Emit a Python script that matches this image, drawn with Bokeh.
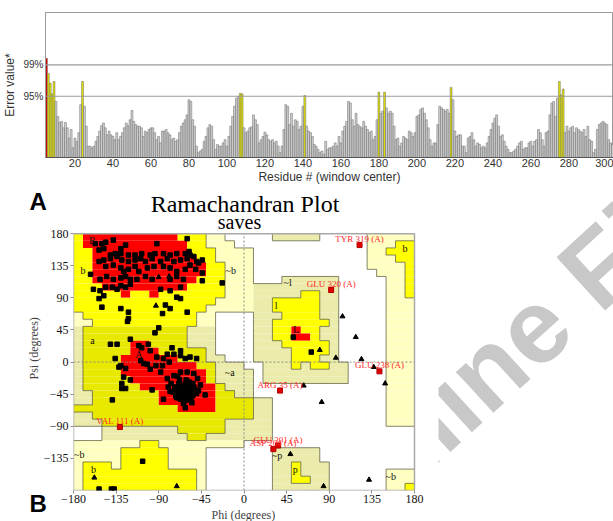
import math
from bokeh.plotting import figure
from bokeh.models import ColumnDataSource, FixedTicker, Label, Title, Span
from bokeh.embed import file_html
from bokeh.resources import INLINE
from bokeh.core.properties import value

# ---------------- Panel A data (ERRAT-style error values per residue) ----------------
error_values = [
    18.4, 15.6, 13.8, 11.8, 14.1, 10.4, 7.6, 6.5, 6.7, 5.5,
    6.5, 5.5, 3.6, 5.2, 1.8, 3.6, 3.0, 4.6, 9.8, 14.1,
    9.5, 5.8, 2.1, 2.1, 1.8, 2.1, 3.0, 3.9, 4.9, 5.9,
    6.4, 5.5, 4.2, 4.9, 4.2, 3.9, 3.3, 4.6, 3.3, 3.9,
    4.6, 5.5, 6.4, 5.9, 7.0, 8.7, 6.7, 6.1, 5.8, 5.8,
    5.5, 3.9, 4.9, 4.6, 5.2, 5.5, 5.5, 4.6, 3.3, 3.9,
    2.7, 4.9, 4.9, 5.2, 4.6, 4.2, 3.3, 3.6, 3.0, 3.3,
    4.6, 5.8, 6.4, 7.0, 7.9, 10.7, 10.4, 7.0, 5.8, 2.1,
    0.9, 1.2, 1.5, 3.0, 3.9, 5.5, 6.1, 5.8, 3.3, 1.5,
    2.4, 2.1, 2.1, 2.7, 3.3, 2.1, 3.9, 5.8, 7.6, 9.5,
    11.0, 11.3, 11.9, 11.8, 5.5, 4.6, 4.9, 5.5, 5.7, 7.9,
    7.0, 6.1, 2.7, 3.3, 3.9, 4.7, 4.2, 3.3, 3.0, 3.3,
    2.7, 3.0, 2.1, 0.9, 2.1, 5.2, 9.8, 9.5, 6.1, 8.2,
    5.8, 7.0, 6.7, 5.2, 5.8, 9.5, 11.5, 5.8, 4.9, 4.6,
    3.9, 2.4, 2.1, 1.5, 0.9, 1.2, 0.6, 3.0, 1.5, 1.8,
    1.8, 2.1, 2.7, 2.1, 3.9, 2.7, 4.9, 5.8, 6.7, 10.4,
    10.1, 7.0, 5.8, 8.2, 6.1, 5.8, 5.5, 6.7, 5.8, 5.2,
    4.6, 4.9, 3.3, 3.9, 7.0, 12.1, 8.2, 8.6, 12.1, 9.2,
    8.2, 8.6, 8.2, 5.8, 3.3, 3.6, 2.1, 2.7, 3.9, 3.6,
    3.3, 4.9, 4.6, 3.9, 4.6, 7.6, 7.9, 8.9, 9.2, 8.2,
    7.0, 5.5, 3.3, 2.1, 2.7, 2.7, 6.1, 9.5, 9.2, 8.9,
    8.6, 8.9, 8.2, 13.0, 10.7, 4.9, 3.9, 4.2, 4.2, 2.1,
    2.1, 0.9, 3.6, 3.9, 4.6, 3.3, 2.1, 2.7, 2.4, 1.8,
    2.1, 1.8, 2.7, 3.9, 5.2, 6.4, 7.3, 7.9, 5.8, 3.9,
    4.2, 3.0, 2.1, 1.5, 0.9, 0.9, 1.2, 1.5, 2.1, 2.7,
    3.0, 1.5, 1.8, 1.8, 2.7, 3.0, 2.1, 3.0, 3.3, 5.2,
    4.6, 3.3, 2.1, 4.6, 4.9, 7.9, 10.1, 10.4, 7.6, 11.0,
    14.1, 11.6, 12.7, 4.6, 5.8, 4.9, 5.5, 5.8, 4.6, 5.5,
    5.2, 4.9, 4.6, 5.2, 3.9, 5.8, 3.3, 3.0, 0.9, 1.5,
    5.2, 6.1, 6.4, 6.7, 6.4, 6.1, 3.3, 2.7, 2.4,
]
first_residue = 5
residues = list(range(first_residue, first_residue + len(error_values)))
threshold_95 = 11.36
threshold_99 = 17.19
residue_ticks = list(range(20, 301, 20))

# ---------------- Panel B data (Ramachandran) ----------------
phi_ticks = [-180, -135, -90, -45, 0, 45, 90, 135, 180]
psi_ticks = [-135, -90, -45, 0, 45, 90, 135, 180]

# 10-degree cells, run-length coded; rows from psi 180 (top) down to -180,
# columns from phi -180 to 180.  R core, Y/y allowed, g/p generous, . disallowed
region_rle = [
    "Y1 R10 Y3 p2 .2 | .3 g5 .5 p5",
    "Y1 R11 Y2 p3 .1 | .13 p3 Y2",
    "Y2 R10 Y3 p3 | p1 .12 p2 Y3",
    "Y2 R11 Y2 p3 | p1 .12 p3 Y2",
    "Y2 R12 Y2 p2 | p1 .12 p4 Y1",
    "Y2 R12 Y2 p2 | p1 .13 p3 Y1",
    "Y2 R11 Y3 p2 | p1 .3 g6 .5 p2 Y1",
    "Y3 R9 Y4 p2 | p1 g9 .5 p2 Y1",
    "Y5 R1 Y2 R1 Y7 p2 | p1 g5 Y2 g2 .5 p2 Y1",
    "Y15 p3 | p1 g2 Y5 g2 .5 p3",
    "Y14 p4 | p1 g2 Y5 g2 .5 p3",
    "p1 Y12 p2 .3 | .1 g3 Y4 g2 .5 p3",
    "p2 Y11 p2 .3 | .1 g2 Y6 g1 .5 p3",
    "g1 y11 g3 .3 | .1 g2 Y2 R1 Y2 g2 .5 p3",
    "g1 y11 g3 .3 | .1 g2 Y2 R2 Y1 g2 .5 p3",
    "g1 y5 R2 y4 g3 .3 | .1 g3 Y5 g1 .5 p3",
    "g1 y5 R3 y5 g1 .3 | .1 g4 Y4 g1 .5 p3",
    "g1 y4 R6 y3 g2 .2 | .1 g4 Y3 g2 .5 p3",
    "g1 y4 R8 y2 g3 | .2 g3 Y1 g1 Y2 g2 .4 p3",
    "g1 y4 R9 y1 g3 | g1 .1 g9 .4 p3",
    "g1 y5 R8 y1 g3 | g1 .1 g9 .4 p3",
    "g1 y6 R8 y1 g2 | g1 .14 p3",
    "g2 y7 R6 y2 g1 | g1 .14 p3",
    "g2 y7 R6 y3 | y1 g2 .12 p3",
    "y11 R4 y3 | y1 g2 .12 p3",
    "g2 y16 | y1 g2 .12 p3",
    "g3 y13 g2 | g3 .12 p3",
    ".3 g8 y5 g2 | g3 .15",
    ".3 g9 y2 g4 | g3 .15",
    "p7 Y2 p9 | .18",
    "p5 Y5 p4 .4 | .3 g5 .10",
    "p5 Y5 p4 .4 | .3 g5 .10",
    "p1 Y3 p1 Y5 p4 .4 | .3 g2 Y1 g3 .9",
    "p1 Y12 p1 .4 | .3 g2 Y1 g3 .6 p3",
    "p1 Y12 p1 .4 | .3 g2 Y2 g2 .6 p3",
    "p1 Y12 p1 .4 | .3 g6 .6 p2 Y1",
]
region_colors = {"R": "#ff0000", "Y": "#ffff00", "y": "#e9e900",
                 "g": "#ebebab", "p": "#ffffc2"}
region_level = {"R": 4, "Y": 3, "y": 3, "g": 2, "p": 2, ".": 1}

# residues in core/allowed regions (phi, psi)
square_points = [
    (-157, 166), (-150, 166), (-146, 168), (-138, 171), (-130, 159), (-125, 164), (-92, 166),
    (-60, 173), (-153, 157), (-148, 159), (-141, 150), (-136, 152), (-130, 152), (-122, 150),
    (-115, 150), (-108, 152), (-99, 150), (-94, 152), (-85, 152), (-78, 150), (-71, 152),
    (-62, 152), (-58, 155), (-57, 150), (-153, 141), (-148, 143), (-141, 145), (-134, 148),
    (-129, 143), (-122, 141), (-115, 143), (-109, 145), (-104, 141), (-97, 145), (-88, 141),
    (-81, 145), (-74, 141), (-67, 143), (-60, 145), (-53, 148), (-50, 141), (-44, 143),
    (-48, 139), (-146, 134), (-138, 136), (-130, 132), (-127, 127), (-122, 130), (-115, 134),
    (-111, 127), (-102, 132), (-95, 134), (-85, 134), (-78, 132), (-71, 127), (-62, 130),
    (-57, 136), (-51, 130), (-44, 125), (-162, 123), (-152, 116), (-145, 120), (-138, 116),
    (-130, 118), (-125, 120), (-120, 116), (-113, 116), (-104, 120), (-97, 116), (-78, 116),
    (-71, 120), (-64, 116), (-44, 114), (-23, 111), (-159, 102), (-152, 100), (-146, 105),
    (-139, 105), (-134, 102), (-130, 107), (-125, 105), (-120, 109), (-88, 102), (-78, 100),
    (-67, 105), (-153, 89), (-148, 93), (-71, 91), (-67, 89), (-150, 77), (-130, 75),
    (-122, 70), (-83, 80), (-78, 75), (-86, 68), (-122, 61), (-123, 57), (-60, 70), (-90, 48),
    (-94, 41), (-120, 32), (-141, 25), (-134, 25), (-111, 23), (-101, 25), (-76, 20), (-74, 11),
    (-67, 9), (-62, 5), (-57, 7), (-50, 5), (-136, 5), (-108, 20), (-92, 7), (-85, 5), (-81, 11),
    (-130, -5), (-109, 2), (-102, -3), (-93, -5), (-86, -5), (-79, 0), (-99, -10), (-88, -14),
    (-127, -21), (-129, -30), (-129, -37), (-125, -37), (-139, -53), (-97, -39), (-81, -23),
    (-74, -19), (-67, -14), (-60, -14), (-53, -16), (-49, -23), (-78, -41), (-71, -50),
    (-62, -64), (-41, -46), (-46, -32), (-55, -37), (-132, -7), (-125, -9), (-120, -25),
    (-85, -52), (-106, -2), (-99, 16), (-67, 16),
    (-65, -40), (-63, -42), (-60, -45), (-62, -38), (-67, -43), (-58, -40), (-61, -47),
    (-64, -35), (-57, -44), (-68, -37), (-55, -42), (-66, -48), (-59, -36), (-62, -50),
    (-70, -40), (-54, -47), (-60, -30), (-65, -33), (-71, -45), (-56, -52), (-63, -55),
    (-58, -28), (-69, -30), (-73, -35), (-52, -38), (-50, -44), (-67, -52), (-61, -25),
    (-75, -42), (-64, -45), (-62, -44), (-60, -41), (-66, -41), (-57, -48), (-59, -50),
    (-53, -35), (-72, -48), (-68, -25), (-55, -57), (-48, -40), (-64, -58), (-77, -30),
    (-70, -20), (-80, -35), (-57, -33), (-61, -36), (-63, -39), (-65, -45), (-58, -46),
    (-60, -53), (-66, -36), (-69, -50), (-54, -30), (-62, -31), (-56, -38),
    (-107, -139), (-137, -178), (-153, -178), (-140, -178), (52, 35), (71, 14),
]
# glycine residues (triangles)
gly_points = [
    (-90, 119), (-79, 120), (-93, 79), (-158, -162), (-71, -174), (104, 64), (118, 35),
    (97, 6), (124, 4), (137, -7), (63, -33), (149, -30), (82, -56), (49, -129), (84, -174),
    (132, -165), (80, 17),
]
# labelled residues outside favoured regions
outlier_names = ["TYR 319 (A)", "GLU 320 (A)", "ARG 35 (A)", "GLU 238 (A)",
                 "VAL 111 (A)", "GLU 301 (A)", "ASP 204 (A)"]
outlier_phi = [122, 92, 38, 143, -131, 36, 31]
outlier_psi = [164, 101, -40, -13, -91, -117, -122]
# region letters
region_label_text = ["B", "b", "~b", "a", "A", "~a", "~b", "b", "~l", "l", "L", "b", "~p", "p", "~b"]
region_label_phi = [-160, -170, -14, -160, -111, -15, -174, -159, 46, 34, 55, 170, 35, 54, 155]
region_label_psi = [170, 129, 129, 30, 11, -15, -130, -150, 111, 80, 45, 159, -131, -150, -160]

SANS = "Liberation Sans"
SERIF = "Liberation Serif"

# ---------------- Figure A ----------------
bar_colors = ["#d40000" if v > threshold_99 else ("#e3e300" if v > threshold_95 else "#d2d2d2")
              for v in error_values]
src_a = ColumnDataSource(dict(x=residues, top=error_values, color=bar_colors))

pa = figure(width=613, height=186, x_range=(4.5, 303.5), y_range=(0, 26.9),
            output_backend="svg", toolbar_location=None,
            min_border_left=43, min_border_right=0, min_border_top=12, min_border_bottom=28)
pa.vbar(x="x", top="top", width=1, bottom=0, fill_color="color", line_color="#666666",
        line_width=0.5, source=src_a)
for t in (threshold_95, threshold_99):
    pa.add_layout(Span(location=t, dimension="width", line_color="#9a9a9a", line_width=1.2))
pa.xgrid.grid_line_color = None
pa.ygrid.grid_line_color = None
pa.outline_line_color = "#9a9a9a"
pa.xaxis.ticker = FixedTicker(ticks=residue_ticks)
pa.xaxis.axis_label = "Residue # (window center)"
pa.yaxis.ticker = FixedTicker(ticks=[threshold_95, threshold_99])
pa.yaxis.major_label_overrides = {threshold_95: "95%", threshold_99: "99%"}
pa.yaxis.axis_label = "Error value*"
for ax in (pa.xaxis[0], pa.yaxis[0]):
    ax.major_tick_line_color = None
    ax.minor_tick_line_color = None
    ax.major_tick_out = 0
    ax.major_label_text_font = SANS
    ax.axis_label_text_font = SANS
    ax.axis_label_text_font_style = "normal"
    ax.major_label_text_color = "#333333"
    ax.axis_label_text_color = "#333333"
pa.xaxis.axis_line_color = "#555555"
pa.yaxis.axis_line_color = "#9a9a9a"
pa.xaxis.major_label_text_font_size = "11px"
pa.yaxis.major_label_text_font_size = "10px"
pa.xaxis.axis_label_text_font_size = "12px"
pa.yaxis.axis_label_text_font_size = "12px"
pa.xaxis.major_label_standoff = 1
pa.xaxis.axis_label_standoff = 0
pa.yaxis.major_label_standoff = 2
pa.yaxis.axis_label_standoff = 3

# ---------------- Figure B ----------------
# Layout of panel B (pixels inside its canvas): the frame is widened to the right and upward
# so that the heading and the background watermark can be drawn in it.
CANVAS_TOP = 186          # page y of panel B canvas
FRAME_LEFT, FRAME_RIGHT = 73, 613
RAMA_RIGHT, RAMA_TOP, RAMA_BOTTOM = 414, 233, 489
px_phi = (RAMA_RIGHT - FRAME_LEFT) / 360.0
px_psi = (RAMA_BOTTOM - RAMA_TOP) / 360.0
phi_end = -180 + (FRAME_RIGHT - FRAME_LEFT) / px_phi
psi_top = 180 + (RAMA_TOP - CANVAS_TOP) / px_psi


def page_to_data(px, py):
    return -180 + (px - FRAME_LEFT) / px_phi, 180 - (py - RAMA_TOP) / px_psi


pb = figure(width=613, height=335, x_range=(-180, phi_end), y_range=(-180, psi_top),
            output_backend="svg", toolbar_location=None, title=None,
            min_border_left=FRAME_LEFT, min_border_right=0, min_border_top=0, min_border_bottom=0)

# watermark behind the chart, hidden left of the chart picture edge
wm_angle = 0.74
wm_size = 105
wm_n_origin = (463, 389)
onli_adv = 1.945 * wm_size
wm_x, wm_y = page_to_data(wm_n_origin[0] - onli_adv * math.cos(wm_angle),
                          wm_n_origin[1] + onli_adv * math.sin(wm_angle))
pb.text(x=[wm_x], y=[wm_y], text=["Online First"], angle=wm_angle, text_font=value(SANS),
        text_font_style="bold", text_font_size=f"{wm_size}px", text_color="#c8c8c8",
        text_align="left", text_baseline="alphabetic")
cover_right = page_to_data(438, 0)[0]
pb.quad(left=[-200], right=[cover_right], bottom=[-300], top=[400], fill_color="white",
        line_color=None)


def expand(rle):
    out = ""
    for tok in rle.replace("|", " ").split():
        out += tok[0] * int(tok[1:])
    return (out + "." * 36)[:36]


region_rows = [expand(r) for r in region_rle]
n_rows = len(region_rows)
n_cols = 36

qx0, qx1, qy0, qy1, qc = [], [], [], [], []
for j, row in enumerate(region_rows):
    i = 0
    while i < n_cols:
        c = row[i]
        k = i
        while k + 1 < n_cols and row[k + 1] == c:
            k += 1
        if c != ".":
            qx0.append(-180 + 10 * i)
            qx1.append(-180 + 10 * (k + 1))
            qy1.append(180 - 10 * j)
            qy0.append(180 - 10 * (j + 1))
            qc.append(region_colors[c])
        i = k + 1
pb.quad(left=qx0, right=qx1, bottom=qy0, top=qy1, fill_color=qc, line_color=None)

# boundary lines between region levels
sx0, sy0, sx1, sy1 = [], [], [], []
for j in range(n_rows):
    for i in range(n_cols):
        a = region_level[region_rows[j][i]]
        if i + 1 < n_cols:
            b = region_level[region_rows[j][i + 1]]
            if a != b and {a, b} != {3, 4}:
                x = -180 + 10 * (i + 1)
                sx0.append(x); sx1.append(x)
                sy0.append(180 - 10 * j); sy1.append(180 - 10 * (j + 1))
        if j + 1 < n_rows:
            b = region_level[region_rows[j + 1][i]]
            if a != b and {a, b} != {3, 4}:
                y = 180 - 10 * (j + 1)
                sy0.append(y); sy1.append(y)
                sx0.append(-180 + 10 * i); sx1.append(-180 + 10 * (i + 1))
pb.segment(x0=sx0, y0=sy0, x1=sx1, y1=sy1, line_color="#55553a", line_width=0.9, line_alpha=0.8)

# zero lines and plot border
pb.segment(x0=[0, -180], y0=[-180, 0], x1=[0, 180], y1=[180, 0], line_color="#8a8a8a",
           line_width=1, line_dash="2 2")
pb.quad(left=[-180], right=[180], bottom=[-180], top=[180], fill_color=None,
        line_color="#a8a8a8", line_width=1.5)

pb.text(x=region_label_phi, y=region_label_psi, text=region_label_text,
        text_font=value(SERIF), text_font_size="10px", text_color="#111111",
        text_align="center", text_baseline="middle")

pb.scatter(x=[p[0] for p in square_points], y=[p[1] for p in square_points], marker="square",
           size=4.5, fill_color="black", line_color="black")
pb.scatter(x=[p[0] for p in gly_points], y=[p[1] for p in gly_points], marker="triangle",
           size=5, fill_color="black", line_color="black")
pb.scatter(x=outlier_phi, y=outlier_psi, marker="square", size=5, fill_color="#e00000",
           line_color="#b00000")
pb.text(x=outlier_phi, y=outlier_psi, text=outlier_names, text_font=value(SERIF),
        text_font_size="9px", text_color="#ff2a2a", text_align="center", text_baseline="middle",
        y_offset=-6)

# heading
t1x, t1y = page_to_data(244.5, 203)
t2x, t2y = page_to_data(239, 221)
pb.text(x=[t1x], y=[t1y], text=["Ramachandran Plot"], text_font=value(SERIF),
        text_font_size="24px", text_color="black", text_align="center", text_baseline="alphabetic")
pb.text(x=[t2x], y=[t2y], text=["saves"], text_font=value(SERIF),
        text_font_size="20px", text_color="black", text_align="center", text_baseline="alphabetic")

pb.xgrid.grid_line_color = None
pb.ygrid.grid_line_color = None
pb.outline_line_color = None
pb.xaxis.ticker = FixedTicker(ticks=phi_ticks)
pb.yaxis.ticker = FixedTicker(ticks=psi_ticks)
for ax in (pb.xaxis[0], pb.yaxis[0]):
    ax.axis_line_color = None
    ax.major_tick_line_color = "#888888"
    ax.major_tick_in = 0
    ax.major_tick_out = 3
    ax.minor_tick_line_color = None
    ax.major_label_text_font = SERIF
    ax.major_label_text_font_size = "12px"
    ax.major_label_text_color = "#111111"
    ax.major_label_standoff = 1
pb.yaxis.major_label_standoff = 2

pb.add_layout(Title(text="Phi (degrees)", align="left", offset=138, text_font=SERIF,
                    text_font_size="12px", text_font_style="normal", standoff=0), "below")
pb.add_layout(Title(text="Psi (degrees)", align="left", offset=111, text_font=SERIF,
                    text_font_size="12px", text_font_style="normal", standoff=0), "left")
pb.add_layout(Label(x=22, y=303, x_units="screen", y_units="screen", text="A\nB",
                    text_font=SANS, text_font_style="bold", text_font_size="24px",
                    text_line_height=11.2, text_color="black", text_baseline="top",
                    text_align="left"), "left")

open("out.html", "w").write(file_html([pa, pb], INLINE))
